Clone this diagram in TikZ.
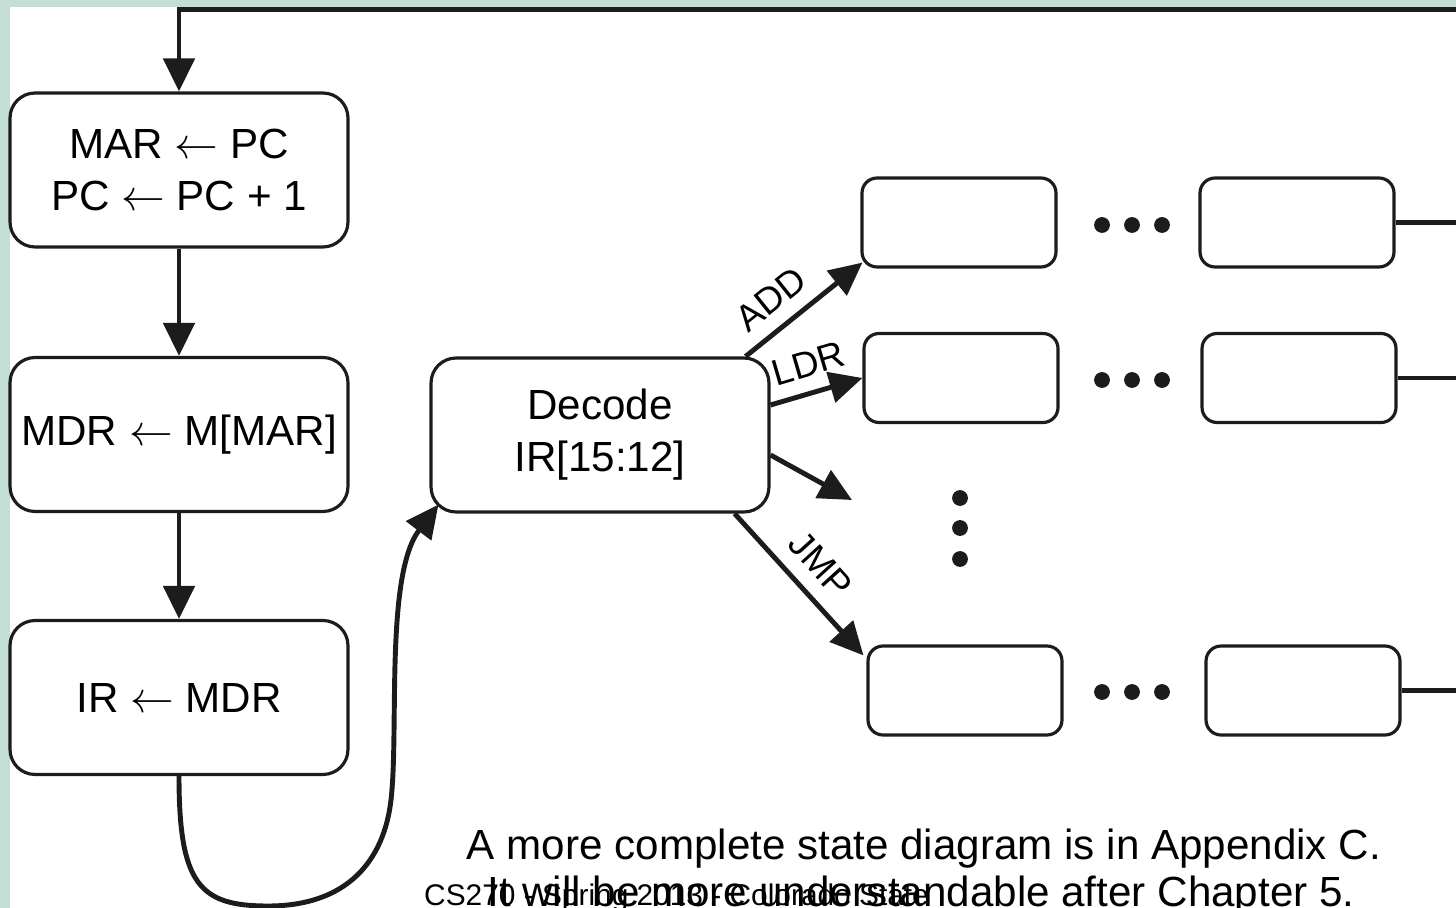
\documentclass[tikz,border=0pt]{standalone}
\usepackage{fontspec}
\setmainfont{Liberation Sans}
\usetikzlibrary{arrows.meta}
\definecolor{slidebg}{RGB}{197,221,215}
\definecolor{ink}{RGB}{28,28,28}
\tikzset{
  state/.style={draw=ink, line width=1.8pt, rounded corners=0.5cm, minimum width=6.76cm, minimum height=3.08cm, inner sep=0pt, align=center, font=\fontsize{24}{29.6}\selectfont},
  substate/.style={draw=ink, line width=1.8pt, rounded corners=0.3cm, minimum width=3.88cm, minimum height=1.78cm},
  flow/.style={draw=ink, line width=2.8pt, -{Triangle[length=0.66cm,width=0.62cm]}},
  link/.style={draw=ink, line width=2.8pt},
  opname/.style={font=\fontsize{21}{25}\selectfont, sloped, above=5pt, inner sep=3pt}
}
\begin{document}
\begin{tikzpicture}[x=0.02cm, y=-0.02cm]
\useasboundingbox (0,0) rectangle (1456,908);
\fill[slidebg] (0,0) rectangle (1456,908);
\fill[white] (10,7) rectangle (1456,908);

\node[state] (fetch)  at (179,170)   {MAR $\leftarrow$ PC\\PC $\leftarrow$ PC + 1};
\node[state] (load)   at (179,434.5) {MDR $\leftarrow$ M[MAR]};
\node[state] (ir)     at (179,697.5) {IR $\leftarrow$ MDR};
\node[state] (decode) at (600,435)   {Decode\\IR[15:12]};

\node[substate] (add1) at (959,222.5) {};
\node[substate] (addn) at (1297,222.5) {};
\node[substate] (ldr1) at (961,378) {};
\node[substate] (ldrn) at (1299,378) {};
\node[substate] (jmp1) at (965,690.5) {};
\node[substate] (jmpn) at (1303,690.5) {};

\coordinate (edge) at (1456,0);
\coordinate (top) at (1456,9.5);
\coordinate (more) at (852,500);

\draw[flow] (top) -| (fetch.north);
\draw[flow] (fetch) -- (load);
\draw[flow] (load) -- (ir);
\draw[flow] (ir.south) .. controls (179,885) and (200,906) .. (268,906)
  .. controls (348,906) and (384,860) .. (391,800)
  .. controls (399,730) and (385,575) .. ([shift={(9,-9)}]decode.south west);

\draw[flow] ([shift={(-25,0)}]decode.north east) -- node[opname, pos=0.37] {ADD} ([shift={(2,-6)}]add1.south west);
\draw[flow] ([shift={(0,-30)}]decode.east) -- node[opname] {LDR} (ldr1.west);
\draw[flow] ([shift={(0,20)}]decode.east) -- (more);
\draw[flow] ([shift={(-36,0)}]decode.south east) -- node[opname, pos=0.5] {JMP} ([shift={(-3,11)}]jmp1.north west);

\draw[link] (addn.east) -- (addn.east -| edge);
\draw[link] (ldrn.east) -- (ldrn.east -| edge);
\draw[link] (jmpn.east) -- (jmpn.east -| edge);

\foreach \y in {225,380,692}
  \foreach \x in {1102,1132,1162}
    \fill[ink] (\x,\y) circle (4.5pt);
\foreach \y in {498,528,559}
  \fill[ink] (960,\y) circle (4.5pt);

\node[anchor=base west, font=\fontsize{17}{20}\selectfont] (footer) at (418,905) {CS270 - Spring 2013 - Colorado State};
\node[anchor=base, font=\fontsize{24}{29}\selectfont] (note1) at (924,859) {A more complete state diagram is in Appendix C.};
\node[anchor=base, font=\fontsize{24}{29}\selectfont] (note2) at (921,906) {It will be more understandable after Chapter 5.};
\end{tikzpicture}
\end{document}
